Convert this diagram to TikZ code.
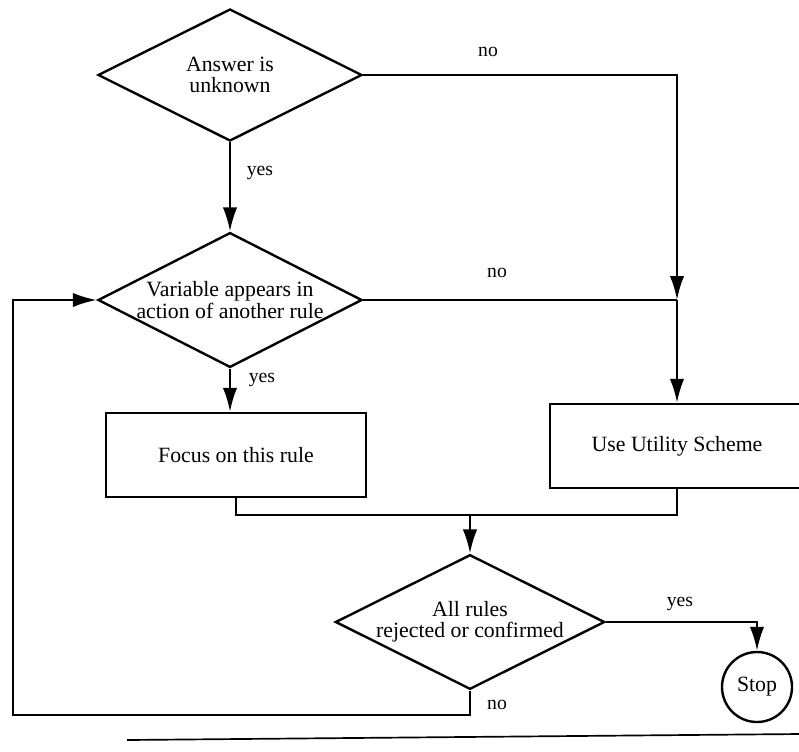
\documentclass[tikz,border=0pt]{standalone}
\usepackage{fontspec}
\setmainfont{Liberation Serif}
\usetikzlibrary{positioning, arrows.meta, shapes.geometric, calc}

\begin{document}
\begin{tikzpicture}[
    x=0.025cm, y=-0.025cm,
    >={Latex[length=6mm, width=3.6mm]},
    line width=1.7pt,
    test/.style={draw, diamond, aspect=2, inner sep=0pt, align=center,
                 minimum width=6.6cm, minimum height=3.3cm,
                 font=\fontsize{15.5}{15}\selectfont},
    act/.style={draw, rectangle, inner sep=0pt,
                minimum width=6.5cm, minimum height=2.1cm,
                font=\fontsize{15.5}{17}\selectfont},
    term/.style={draw, circle, inner sep=0pt, minimum size=1.75cm,
                 font=\fontsize{15.5}{17}\selectfont},
    lbl/.style={font=\fontsize{14}{16}\selectfont, inner sep=1pt},
    arr/.style={->}
]
\useasboundingbox (0,0) rectangle (799,751);

\node[test] (ask) at (230,75) {Answer is\\unknown};
\node[test, aspect=1.9] (var) at (230,300)
     {Variable appears in\\action of another rule};
\node[act] (focus) at (236,455) {Focus on this rule};
\node[act, minimum width=6.35cm] (util) at (677,446) {Use Utility Scheme};
\node[test, minimum width=6.5cm, minimum height=3.3cm] (done) at (470,622)
     {All rules\\rejected or confirmed};
\node[term] (stop) at (757,687) {Stop};

\coordinate (junc) at (util.north |- var.east);
\coordinate (mrg) at (done.north |- 0,515);
\coordinate (back) at (13,715);

% ---- answer test ----
\draw[arr] (ask.south) -- (var.north);
\node[lbl] (askyes) at (260,173) {yes};
\draw[arr] (ask.east) -| (junc);
\node[lbl] (askno) at (488,52) {no};

% ---- variable test ----
\draw (var.east) -- (junc);
\node[lbl] (varno) at (497,273) {no};
\draw[arr] (junc) -- (util.north);
\draw[arr] (var.south) -- (var.south |- focus.north);
\node[lbl] (varyes) at (262,380) {yes};

% ---- merge into last test ----
\draw (focus.south) |- (mrg) -| (util.south);
\draw[arr] (mrg) -- (done.north);

% ---- last test ----
\draw[arr] (done.east) -| (stop.north);
\node[lbl] (doneyes) at (680,604) {yes};
\draw[arr] (done.south) |- (back) |- (var.west);
\node[lbl] (doneno) at (497,705) {no};

% ---- page rule ----
\draw[line width=1.2pt] (127,740) -- (799,734);
\end{tikzpicture}
\end{document}
